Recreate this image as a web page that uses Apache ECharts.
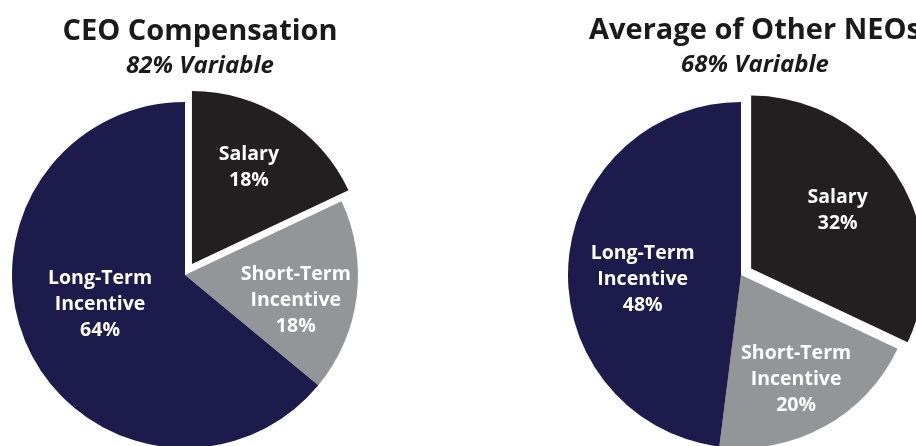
<!DOCTYPE html>
<html>
<head>
<meta charset="utf-8">
<script src="https://cdn.jsdelivr.net/npm/echarts@6/dist/echarts.min.js"></script>
<style>
  html, body { margin: 0; padding: 0; background: #ffffff; }
  #chart { width: 916px; height: 446px; }
</style>
</head>
<body>
<div id="chart"></div>
<script>
// slice names, shared by both pies
const categories = ['Salary', 'Short-Term Incentive', 'Long-Term Incentive'];

// percent of pay
const ceoValues = [18, 18, 64];
const neoValues = [32, 20, 48];

const titles = ['CEO Compensation', 'Average of Other NEOs'];
const subtitles = ['82% Variable', '68% Variable'];

// slice colours: salary, short-term, long-term
const sliceColors = ['#231f20', '#939598', '#1d1b4b'];

// small label nudges so labels sit where the original has them
const ceoLabelNudge = [[9, -21], [22, 14], [-4, -9]];
const neoLabelNudge = [[11, -10], [12, 26], [-9, 10]];

const FONT = '"Open Sans", "Noto Sans", sans-serif';

function buildData(values) {
    return categories.map(function (name, i) {
        return {
            name: name,
            value: values[i],
            selected: i === 0,
            itemStyle: { color: sliceColors[i] }
        };
    });
}

function buildPie(values, center, offset, nudge) {
    return {
        type: 'pie',
        center: center,
        radius: 173,
        startAngle: 90,
        clockwise: true,
        selectedMode: 'single',
        selectedOffset: offset,
        silent: true,
        animation: false,
        emphasis: { disabled: true },
        labelLine: { show: false },
        label: {
            show: true,
            position: 'inside',
            color: '#ffffff',
            fontFamily: FONT,
            fontWeight: 'bold',
            fontSize: 19.5,
            lineHeight: 26,
            align: 'center',
            formatter: function (p) {
                return p.name.replace(' ', '\n') + '\n' + p.value + '%';
            }
        },
        labelLayout: function (params) {
            const n = nudge[params.dataIndex];
            return { dx: n[0], dy: n[1] };
        },
        data: buildData(values)
    };
}

const chart = echarts.init(document.getElementById('chart'), null, { renderer: 'canvas' });

const titleStyle = { fontFamily: FONT, fontWeight: 'bold', fontSize: 29, color: '#1a1a1a' };
const subStyle = { fontFamily: FONT, fontWeight: 'bold', fontStyle: 'italic', fontSize: 24, color: '#1a1a1a' };

chart.setOption({
    backgroundColor: '#ffffff',
    animation: false,
    title: [
        {
            text: titles[0],
            subtext: subtitles[0],
            left: 195,
            top: 12,
            textAlign: 'center',
            itemGap: 8,
            textStyle: titleStyle,
            subtextStyle: subStyle
        },
        {
            text: titles[1],
            subtext: subtitles[1],
            left: 750,
            top: 11,
            textAlign: 'center',
            itemGap: 8,
            textStyle: titleStyle,
            subtextStyle: subStyle
        }
    ],
    series: [
        buildPie(ceoValues, [185, 275], 13, ceoLabelNudge),
        buildPie(neoValues, [741, 275], 12, neoLabelNudge)
    ]
});
</script>
</body>
</html>
